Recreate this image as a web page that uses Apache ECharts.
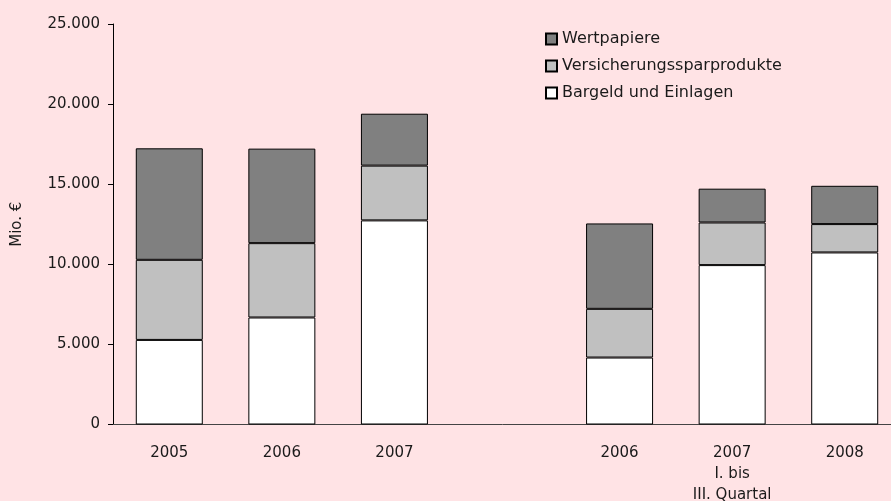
<!DOCTYPE html>
<html><head><meta charset="utf-8">
<script src="https://cdn.jsdelivr.net/npm/echarts@6/dist/echarts.min.js"></script>
<style>html,body{margin:0;padding:0;background:#FFE3E5;}#c{width:891px;height:501px;}</style>
</head><body><div id="c"></div>
<script>
const categories = ['2005', '2006', '2007', '', '2006', '2007\nI. bis\nIII. Quartal', '2008'];
const bargeld = [5280, 6680, 12740, null, 4180, 9950, 10740];
const versicherung = [5000, 4640, 3420, null, 3040, 2660, 1770];
const wertpapiere = [6960, 5900, 3240, null, 5330, 2110, 2390];
const yTicks = [0, 5000, 10000, 15000, 20000, 25000];

const FONT = 'DejaVu Sans';
const chart = echarts.init(document.getElementById('c'));
function fmt(v) { return v === 0 ? '0' : String(v).replace(/\B(?=(\d{3})+(?!\d))/g, '.'); }
const common = { type: 'bar', stack: 'a', barWidth: 67 };
chart.setOption({
  backgroundColor: '#FFE3E5',
  animation: false,
  textStyle: { fontFamily: FONT },
  grid: { left: 113, top: 24, width: 788, bottom: 76.5, containLabel: false, outerBoundsMode: 'none' },
  legend: {
    orient: 'vertical', left: 540, top: 26, itemWidth: 11, itemHeight: 11, itemGap: 11, icon: 'rect',
    data: ['Wertpapiere', 'Versicherungssparprodukte', 'Bargeld und Einlagen'],
    textStyle: { fontFamily: FONT, fontSize: 16, color: '#1a1a1a', lineHeight: 16 }
  },
  xAxis: {
    type: 'category', data: categories,
    axisLine: { lineStyle: { color: '#444' } },
    axisTick: { show: false },
    axisLabel: { fontFamily: FONT, fontSize: 15, color: '#1a1a1a', margin: 18, lineHeight: 21, interval: 0 }
  },
  yAxis: {
    type: 'value', min: 0, max: 25000, interval: 5000,
    name: 'Mio. €', nameLocation: 'middle', nameRotate: 90, nameGap: 88,
    nameTextStyle: { fontFamily: FONT, fontSize: 15, color: '#1a1a1a' },
    axisLine: { show: true, lineStyle: { color: '#000' } },
    axisTick: { show: true, length: 5, lineStyle: { color: '#000' } },
    splitLine: { show: false },
    axisLabel: { fontFamily: FONT, fontSize: 15, color: '#1a1a1a', margin: 13, formatter: fmt }
  },
  series: [
    Object.assign({}, common, { name: 'Bargeld und Einlagen', data: bargeld, itemStyle: { color: '#FFFFFF', borderColor: '#000', borderWidth: 1 } }),
    Object.assign({}, common, { name: 'Versicherungssparprodukte', data: versicherung, itemStyle: { color: '#C0C0C0', borderColor: '#000', borderWidth: 1 } }),
    Object.assign({}, common, { name: 'Wertpapiere', data: wertpapiere, itemStyle: { color: '#808080', borderColor: '#000', borderWidth: 1 } })
  ]
});
</script></body></html>
